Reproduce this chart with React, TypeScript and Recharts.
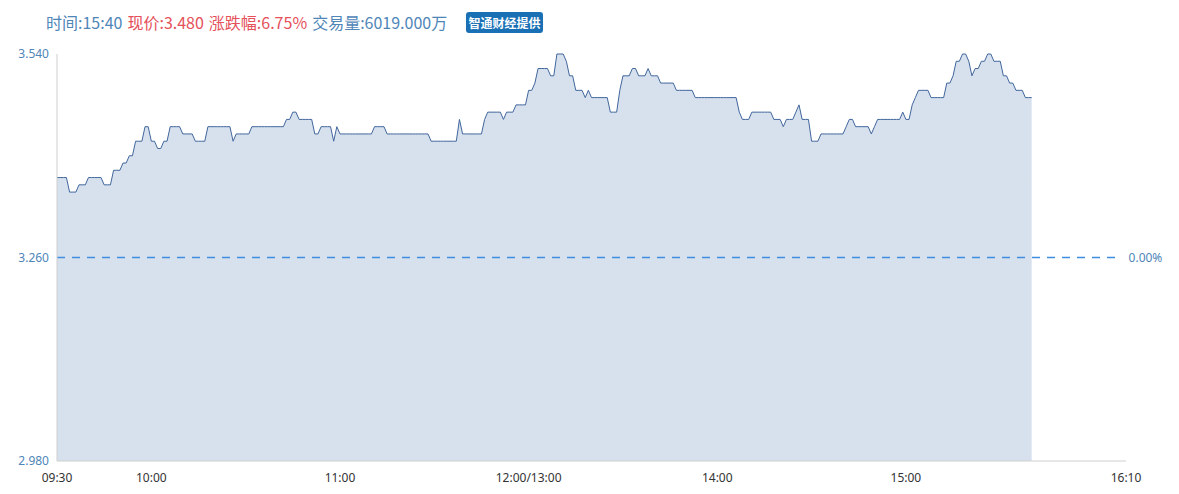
import * as React from "react";
import { Area, AreaChart, ReferenceLine, XAxis, YAxis } from "recharts";

// one close per minute, 09:30 -> 15:40 (12:00 and 13:00 share one slot)
const PRICES = [
  3.37, 3.37, 3.37, 3.37, 3.35, 3.35, 3.35, 3.36, 3.36, 3.36,
  3.37, 3.37, 3.37, 3.37, 3.37, 3.36, 3.36, 3.36, 3.38, 3.38,
  3.38, 3.39, 3.39, 3.40, 3.40, 3.42, 3.42, 3.42, 3.44, 3.44,
  3.42, 3.42, 3.41, 3.41, 3.42, 3.42, 3.44, 3.44, 3.44, 3.44,
  3.43, 3.43, 3.43, 3.43, 3.42, 3.42, 3.42, 3.42, 3.44, 3.44,
  3.44, 3.44, 3.44, 3.44, 3.44, 3.44, 3.42, 3.43, 3.43, 3.43,
  3.43, 3.43, 3.44, 3.44, 3.44, 3.44, 3.44, 3.44, 3.44, 3.44,
  3.44, 3.44, 3.44, 3.45, 3.45, 3.46, 3.46, 3.45, 3.45, 3.45,
  3.45, 3.45, 3.43, 3.43, 3.44, 3.44, 3.44, 3.44, 3.42, 3.44,
  3.43, 3.43, 3.43, 3.43, 3.43, 3.43, 3.43, 3.43, 3.43, 3.43,
  3.43, 3.44, 3.44, 3.44, 3.44, 3.43, 3.43, 3.43, 3.43, 3.43,
  3.43, 3.43, 3.43, 3.43, 3.43, 3.43, 3.43, 3.43, 3.43, 3.42,
  3.42, 3.42, 3.42, 3.42, 3.42, 3.42, 3.42, 3.42, 3.45, 3.43,
  3.43, 3.43, 3.43, 3.43, 3.43, 3.43, 3.45, 3.46, 3.46, 3.46,
  3.46, 3.46, 3.45, 3.46, 3.46, 3.46, 3.47, 3.47, 3.47, 3.47,
  3.49, 3.49, 3.50, 3.52, 3.52, 3.52, 3.52, 3.51, 3.51, 3.54,
  3.54, 3.54, 3.53, 3.51, 3.51, 3.49, 3.49, 3.49, 3.48, 3.49,
  3.48, 3.48, 3.48, 3.48, 3.48, 3.48, 3.46, 3.46, 3.46, 3.49,
  3.51, 3.51, 3.51, 3.52, 3.52, 3.51, 3.51, 3.51, 3.52, 3.51,
  3.51, 3.51, 3.50, 3.50, 3.50, 3.50, 3.50, 3.49, 3.49, 3.49,
  3.49, 3.49, 3.49, 3.48, 3.48, 3.48, 3.48, 3.48, 3.48, 3.48,
  3.48, 3.48, 3.48, 3.48, 3.48, 3.48, 3.48, 3.46, 3.45, 3.45,
  3.45, 3.46, 3.46, 3.46, 3.46, 3.46, 3.46, 3.46, 3.45, 3.45,
  3.45, 3.44, 3.45, 3.45, 3.45, 3.46, 3.47, 3.45, 3.45, 3.45,
  3.42, 3.42, 3.42, 3.43, 3.43, 3.43, 3.43, 3.43, 3.43, 3.43,
  3.43, 3.44, 3.45, 3.45, 3.44, 3.44, 3.44, 3.44, 3.44, 3.43,
  3.44, 3.45, 3.45, 3.45, 3.45, 3.45, 3.45, 3.45, 3.45, 3.46,
  3.45, 3.45, 3.47, 3.48, 3.49, 3.49, 3.49, 3.49, 3.48, 3.48,
  3.48, 3.48, 3.48, 3.50, 3.50, 3.51, 3.53, 3.53, 3.54, 3.54,
  3.53, 3.51, 3.52, 3.52, 3.53, 3.53, 3.54, 3.54, 3.53, 3.53,
  3.53, 3.51, 3.51, 3.50, 3.50, 3.49, 3.49, 3.49, 3.48, 3.48,
  3.48,
];

const TOTAL_MINUTES = 340;
const TIME_TICKS = [0, 30, 90, 150, 210, 270, 340];
const TIME_LABELS = ["09:30", "10:00", "11:00", "12:00/13:00", "14:00", "15:00", "16:10"];

const PRICE_MIN = 2.98;
const PRICE_MAX = 3.54;
const PREV_CLOSE = 3.26;
const PRICE_TICKS = [2.98, 3.26, 3.54];

const HEADER_TIME = "15:40";
const HEADER_PRICE = "3.480";
const HEADER_CHANGE = "6.75%";
const HEADER_VOLUME = "6019.000万";
const HEADER_SOURCE = "智通财经提供";

const BLUE_TEXT = "#4f86b8";
const RED_TEXT = "#e5505a";
const STROKE = "#41669c";
const FILL = "#d7e1ee";
const FONT = '"Segoe UI", "Noto Sans", "Noto Sans CJK SC", sans-serif';

export default function App() {
  const data = React.useMemo(() => PRICES.map((p, i) => ({ t: i, p })), []);
  const pctLabel = `${(((PREV_CLOSE - PREV_CLOSE) / PREV_CLOSE) * 100).toFixed(2)}%`;
  // dashes stop a little short of the right edge, like the source widget
  const dashEnd = TOTAL_MINUTES - 3;

  return (
    <div
      style={{
        position: "absolute",
        left: 0,
        top: 0,
        width: 1179,
        height: 494,
        background: "#fff",
        fontFamily: FONT,
      }}
    >
      <div
        style={{
          position: "absolute",
          left: 46,
          top: 10,
          height: 24,
          display: "flex",
          alignItems: "center",
          fontSize: 16,
          whiteSpace: "nowrap",
          fontFamily: '"Segoe UI", "Noto Sans CJK SC", sans-serif',
        }}
      >
        <span style={{ color: BLUE_TEXT }}>时间:{HEADER_TIME}</span>
        <span style={{ color: RED_TEXT, marginLeft: 5 }}>现价:{HEADER_PRICE}</span>
        <span style={{ color: RED_TEXT, marginLeft: 5 }}>涨跌幅:{HEADER_CHANGE}</span>
        <span style={{ color: BLUE_TEXT, marginLeft: 5 }}>交易量:{HEADER_VOLUME}</span>
      </div>
      <div
        style={{
          position: "absolute",
          left: 466,
          top: 12,
          width: 77,
          height: 21,
          background: "#1a70b5",
          color: "#fff",
          fontSize: 12,
          fontWeight: 700,
          borderRadius: 3,
          lineHeight: "21px",
          textAlign: "center",
          fontFamily: '"Noto Sans CJK SC", sans-serif',
        }}
      >
        {HEADER_SOURCE}
      </div>
      <AreaChart
        width={1179}
        height={494}
        data={data}
        margin={{ top: 54, right: 53, bottom: 0, left: 0 }}
      >
        <XAxis
          dataKey="t"
          type="number"
          domain={[0, TOTAL_MINUTES]}
          ticks={TIME_TICKS}
          tickFormatter={(v: number) => TIME_LABELS[TIME_TICKS.indexOf(v)] ?? ""}
          interval={0}
          height={33}
          tickLine={false}
          tickMargin={6}
          axisLine={{ stroke: "#cfcfcf" }}
          tick={{ fontSize: 12, fill: "#333", fontFamily: FONT }}
        />
        <YAxis
          type="number"
          domain={[PRICE_MIN, PRICE_MAX]}
          ticks={PRICE_TICKS}
          tickFormatter={(v: number) => v.toFixed(3)}
          width={57}
          tickLine={false}
          axisLine={{ stroke: "#cfcfcf" }}
          tick={{ fontSize: 12, fill: BLUE_TEXT, fontFamily: FONT }}
        />
        <Area
          type="linear"
          dataKey="p"
          stroke={STROKE}
          strokeWidth={1}
          fill={FILL}
          fillOpacity={1}
          dot={false}
          activeDot={false}
          isAnimationActive={false}
        />
        <ReferenceLine
          segment={[
            { x: 0, y: PREV_CLOSE },
            { x: dashEnd, y: PREV_CLOSE },
          ]}
          stroke="#3f8ee0"
          strokeWidth={1.3}
          strokeDasharray="8 7"
          label={{
            value: pctLabel,
            position: "right",
            offset: 12,
            fill: BLUE_TEXT,
            fontSize: 12,
            fontFamily: FONT,
          }}
        />
      </AreaChart>
    </div>
  );
}
